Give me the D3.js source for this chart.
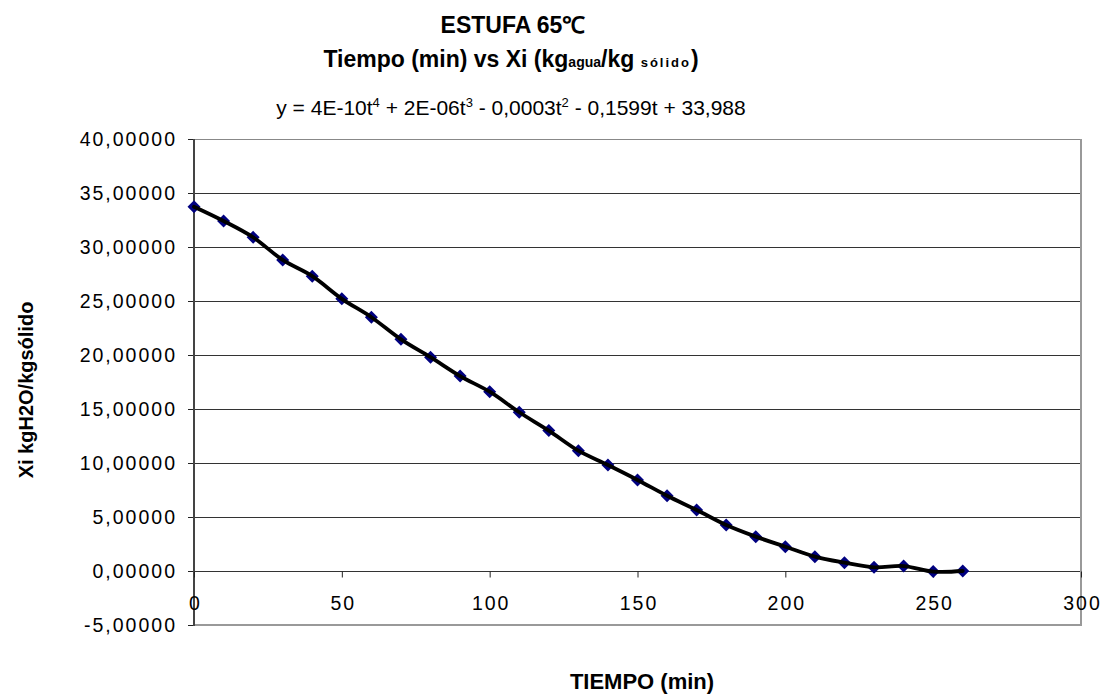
<!DOCTYPE html>
<html>
<head>
<meta charset="utf-8">
<script src="https://cdn.jsdelivr.net/npm/d3@7"></script>
<style>
  html, body { margin: 0; padding: 0; background: #fff; }
  svg { display: block; font-family: "Liberation Sans", Arial, sans-serif; }
</style>
</head>
<body>
<svg id="chart" width="1109" height="698"></svg>
<script>
// Drying run in the oven at 65 °C: moisture content vs time
const tiempos = [0, 10, 20, 30, 40, 50, 60, 70, 80, 90, 100, 110, 120, 130,
                 140, 150, 160, 170, 180, 190, 200, 210, 220, 230, 240, 250, 260];
const xiValores = [33.73, 32.41, 30.90, 28.80, 27.30, 25.20, 23.50, 21.45, 19.80,
                   18.05, 16.60, 14.70, 13.00, 11.14, 9.81, 8.43, 6.97, 5.65, 4.26,
                   3.18, 2.25, 1.33, 0.77, 0.34, 0.46, -0.05, 0.00];
const yTicks = [-5, 0, 5, 10, 15, 20, 25, 30, 35, 40];
const xTicks = [0, 50, 100, 150, 200, 250, 300];

const svg = d3.select("#chart");
const plot = { left: 194, right: 1081, top: 139, bottom: 625 };

const x = d3.scaleLinear().domain([0, 300]).range([plot.left, plot.right]);
const y = d3.scaleLinear().domain([-5, 40]).range([plot.bottom, plot.top]);

const es = d3.formatLocale({ decimal: ",", thousands: ".", grouping: [3],
                             currency: ["", " €"], minus: "-" });
const fmtY = es.format(".5f");

// horizontal gridlines
svg.append("g").selectAll("line").data(yTicks.filter(d => d > -5)).join("line")
  .attr("x1", plot.left).attr("x2", plot.right)
  .attr("y1", d => Math.round(y(d)) + 0.5).attr("y2", d => Math.round(y(d)) + 0.5)
  .attr("stroke", d => d === 40 ? "#888" : "#333").attr("stroke-width", 1);

// right and bottom frame
svg.append("line").attr("x1", plot.right).attr("x2", plot.right)
  .attr("y1", plot.top).attr("y2", plot.bottom + 1)
  .attr("stroke", "#999").attr("stroke-width", 2);
svg.append("line").attr("x1", plot.left).attr("x2", plot.right + 1)
  .attr("y1", plot.bottom).attr("y2", plot.bottom)
  .attr("stroke", "#999").attr("stroke-width", 2);

// y axis
const yAxis = d3.axisLeft(y).tickValues(yTicks).tickFormat(fmtY)
  .tickSize(6).tickPadding(11);
const gy = svg.append("g").attr("transform", `translate(${plot.left},0)`).call(yAxis);
gy.select(".domain").remove();
gy.selectAll(".tick line").attr("stroke", "#222");
gy.selectAll(".tick text").attr("font-size", 19.5).attr("fill", "#000")
  .attr("letter-spacing", 2)
  .attr("font-family", "'Liberation Sans', Arial, sans-serif");
svg.append("line").attr("x1", plot.left).attr("x2", plot.left)
  .attr("y1", plot.top).attr("y2", plot.bottom + 1)
  .attr("stroke", "#444").attr("stroke-width", 2);

// x axis crossing at y = 0
const xAxis = d3.axisBottom(x).tickValues(xTicks).tickFormat(d3.format("d"))
  .tickSize(6).tickPadding(19);
const gx = svg.append("g").attr("transform", `translate(0,${Math.round(y(0)) + 0.5})`).call(xAxis);
gx.select(".domain").remove();
gx.selectAll(".tick line").attr("stroke", "#222");
gx.selectAll(".tick text").attr("font-size", 19.5).attr("fill", "#000")
  .attr("letter-spacing", 2).attr("dx", 1)
  .attr("font-family", "'Liberation Sans', Arial, sans-serif");

// data series: diamond markers joined by a smoothed black line
const puntos = tiempos.map((t, i) => [t, xiValores[i]]);
const linea = d3.line().x(d => x(d[0])).y(d => y(d[1]))
  .curve(d3.curveCatmullRom.alpha(0.5));

svg.append("g").selectAll("path").data(puntos).join("path")
  .attr("transform", d => `translate(${x(d[0])},${y(d[1])})`)
  .attr("d", "M0,-6.5L6.5,0L0,6.5L-6.5,0Z")
  .attr("fill", "#000080");

svg.append("path").datum(puntos)
  .attr("fill", "none").attr("stroke", "#000").attr("stroke-width", 3.8)
  .attr("stroke-linejoin", "round").attr("stroke-linecap", "round")
  .attr("d", linea);

// titles
svg.append("text").attr("x", 513).attr("y", 33).attr("text-anchor", "middle")
  .attr("font-size", 23).attr("font-weight", "bold").text("ESTUFA 65℃");

const t2 = svg.append("text").attr("x", 511).attr("y", 67).attr("text-anchor", "middle")
  .attr("font-size", 23).attr("font-weight", "bold");
t2.append("tspan").text("Tiempo (min) vs Xi (kg");
t2.append("tspan").attr("font-size", 14).text("agua");
t2.append("tspan").text("/kg ");
t2.append("tspan").attr("font-size", 13).attr("letter-spacing", 2).text("sólido");
t2.append("tspan").text(")");

// trendline equation with superscript exponents
const eq = svg.append("text").attr("x", 511).attr("y", 115).attr("text-anchor", "middle")
  .attr("font-size", 21);
const partes = [
  { base: "y = 4E-10t", exp: "4" },
  { base: " + 2E-06t", exp: "3" },
  { base: " - 0,0003t", exp: "2" },
  { base: " - 0,1599t + 33,988", exp: null }
];
let bajar = 0;
partes.forEach(p => {
  eq.append("tspan").attr("dy", bajar).text(p.base);
  bajar = 0;
  if (p.exp) {
    eq.append("tspan").attr("font-size", 13).attr("dy", -8).text(p.exp);
    bajar = 8;
  }
});

// axis titles
svg.append("text").attr("x", 642).attr("y", 689).attr("text-anchor", "middle")
  .attr("font-size", 22).attr("font-weight", "bold").text("TIEMPO (min)");

svg.append("text").attr("transform", "translate(33,390) rotate(-90)")
  .attr("text-anchor", "middle").attr("font-size", 20).attr("font-weight", "bold")
  .text("Xi kgH2O/kgsólido");
</script>
</body>
</html>
